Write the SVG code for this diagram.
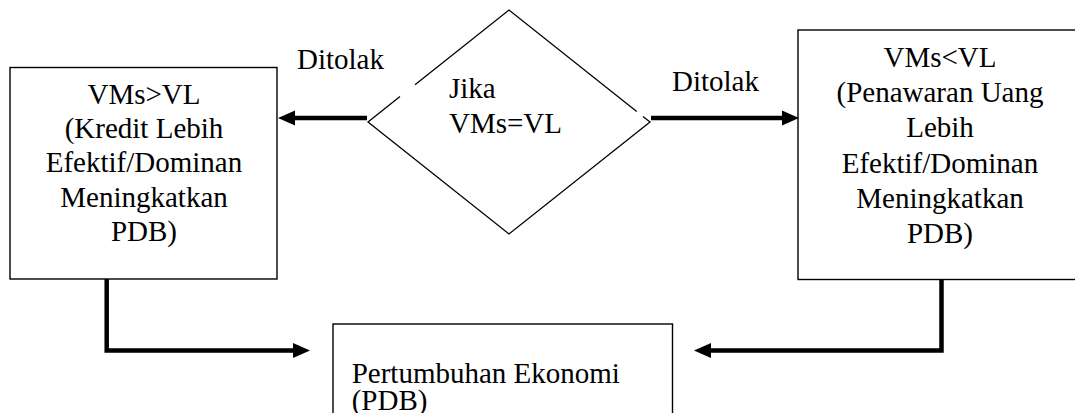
<svg xmlns="http://www.w3.org/2000/svg" width="1075" height="413" viewBox="0 0 1075 413">
<style>
.box{fill:#fff;stroke:#000;stroke-width:1.4}
.dia{fill:none;stroke:#000;stroke-width:1.3}
text{font-family:'Liberation Serif','Times New Roman',Times,'DejaVu Serif',serif;font-size:29px;fill:#000}
.c{text-anchor:middle}
.conn{fill:none;stroke:#000;stroke-width:4.5}
</style>
<defs>
<marker id="ah" markerUnits="userSpaceOnUse" markerWidth="17" markerHeight="15" refX="0" refY="7.5" orient="auto" overflow="visible">
<path d="M0,0 L17,7.5 L0,15 z" fill="#000"/>
</marker>
</defs>
<rect width="1075" height="413" fill="#fff"/>
<g id="left-box">
<rect class="box" x="10" y="67.5" width="267" height="211.5"/>
<text class="c" font-family="Liberation Serif, serif" x="144" y="103.5">VMs&gt;VL</text>
<text class="c" font-family="Liberation Serif, serif" x="144" y="137.5">(Kredit Lebih</text>
<text class="c" font-family="Liberation Serif, serif" x="144" y="172">Efektif/Dominan</text>
<text class="c" font-family="Liberation Serif, serif" x="144" y="206.5">Meningkatkan</text>
<text class="c" font-family="Liberation Serif, serif" x="144" y="240.5">PDB)</text>
</g>
<g id="decision">
<path class="dia" d="M400,96.6 L368,122 L509,234 L650,122 L643,116.4 M636.7,111.4 L509,10 L415,84.7"/>
<text font-family="Liberation Serif, serif" x="449" y="98.3">Jika</text>
<text font-family="Liberation Serif, serif" x="449" y="132.7">VMs=VL</text>
</g>
<g id="right-box">
<rect class="box" x="798" y="30" width="284" height="249.5"/>
<text class="c" font-family="Liberation Serif, serif" x="940" y="66.5">VMs&lt;VL</text>
<text class="c" font-family="Liberation Serif, serif" x="940" y="101.5">(Penawaran Uang</text>
<text class="c" font-family="Liberation Serif, serif" x="940" y="137">Lebih</text>
<text class="c" font-family="Liberation Serif, serif" x="940" y="172.5">Efektif/Dominan</text>
<text class="c" font-family="Liberation Serif, serif" x="940" y="208">Meningkatkan</text>
<text class="c" font-family="Liberation Serif, serif" x="940" y="243.3">PDB)</text>
</g>
<g id="bottom-box">
<rect class="box" x="333" y="324" width="339.5" height="100"/>
<text font-family="Liberation Serif, serif" x="351.7" y="383">Pertumbuhan Ekonomi</text>
<text font-family="Liberation Serif, serif" x="351.7" y="409.5">(PDB)</text>
</g>
<g id="labels">
<text font-family="Liberation Serif, serif" x="297" y="69">Ditolak</text>
<text font-family="Liberation Serif, serif" x="672" y="91.3">Ditolak</text>
</g>
<g id="connectors">
<path class="conn" d="M367,118 H295" marker-end="url(#ah)"/>
<path class="conn" d="M651,118 H782" marker-end="url(#ah)"/>
<path class="conn" d="M106.7,279 V350.5 H293" marker-end="url(#ah)"/>
<path class="conn" d="M941.5,279 V350.5 H711" marker-end="url(#ah)"/>
</g>
</svg>
